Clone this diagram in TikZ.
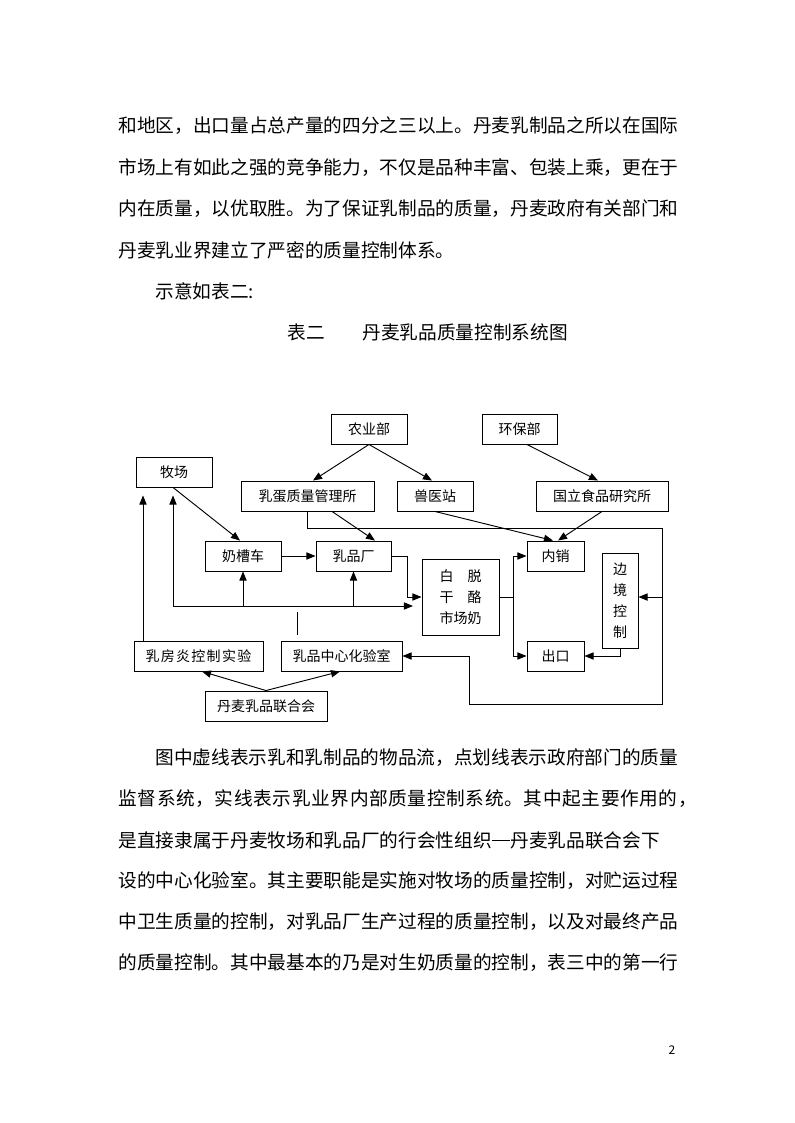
\documentclass[tikz,border=0pt]{standalone}
\usepackage{fontspec}
\newfontfamily\cjk{Noto Sans CJK SC}
\usetikzlibrary{arrows.meta,calc}
\begin{document}
\begin{tikzpicture}[x=0.75pt,y=-0.75pt,line width=0.7pt,
  box/.style={draw,inner sep=0pt,minimum height=22.5pt,font=\cjk\fontsize{10.5pt}{13pt}\selectfont},
  arr/.style={-{Triangle[length=6.8pt,width=5.4pt]}},
  body/.style={anchor=west,inner sep=0pt,font=\cjk\fontsize{14pt}{14pt}\selectfont}]
\fill[white] (0,0) rectangle (794,1123);
\useasboundingbox (0,0) rectangle (794,1123);

% ---- text above ----
\node[body] (t1) at (118,126) {和地区，出口量占总产量的四分之三以上。丹麦乳制品之所以在国际};
\node[body] (t2) at (118,168) {市场上有如此之强的竞争能力，不仅是品种丰富、包装上乘，更在于};
\node[body] (t3) at (118,209) {内在质量，以优取胜。为了保证乳制品的质量，丹麦政府有关部门和};
\node[body] (t4) at (118,250) {丹麦乳业界建立了严密的质量控制体系。};
\node[body] (t5) at (155,291) {示意如表二:};
\node[body] (t6a) at (287,332) {表二};
\node[body] (t6b) at (362,332) {丹麦乳品质量控制系统图};

% ---- boxes ----
\node[box,minimum width=57pt] (nong) at (369,429) {农业部};
\node[box,minimum width=56.25pt] (huanbao) at (519.5,429) {环保部};
\node[box,minimum width=57pt] (muchang) at (174,472) {牧场};
\node[box,minimum width=99.75pt] (rudan) at (307.5,496) {乳蛋质量管理所};
\node[box,minimum width=57pt] (shouyi) at (435,496) {兽医站};
\node[box,minimum width=99pt] (guoli) at (602,496) {国立食品研究所};
\node[box,minimum width=57pt] (naicao) at (243,556) {奶槽车};
\node[box,minimum width=56.25pt] (rupin) at (353.5,556) {乳品厂};
\node[box,minimum width=57.75pt,minimum height=57pt,align=center,
  font=\cjk\fontsize{10.5pt}{15.75pt}\selectfont] (baituo) at (460.5,597)
  {白\hspace{1em}脱\\干\hspace{1em}酪\\市场奶};
\node[box,minimum width=42.75pt] (neixiao) at (555.5,556) {内销};
\node[box,minimum width=27pt,minimum height=71.25pt,align=center,
  font=\cjk\fontsize{10.5pt}{15.75pt}\selectfont] (bianjing) at (620,600.5)
  {边\\境\\控\\制};
\node[box,minimum width=42.75pt] (chukou) at (555.5,656) {出口};
\node[box,minimum width=96.75pt] (rufang) at (198.5,656) {\addfontfeature{LetterSpace=9}乳房炎控制实验};
\node[box,minimum width=90.75pt] (zhongxin) at (341.5,656) {乳品中心化验室};
\node[box,minimum width=91.5pt] (lianhe) at (266,706) {丹麦乳品联合会};

% ---- helper coordinates ----
\coordinate (c1) at (662,528);
\coordinate (c2) at (662,704);
\coordinate (c3) at (469,704);
\coordinate (c4) at (173,606);
\coordinate (c5) at (413,606);
\coordinate (c6) at (297,606);
\coordinate (c7) at ($(rufang.north)+(-55.5,0)$);

% ---- connectors ----
\draw[arr] (nong.south) -- ([xshift=4.1pt]rudan.north);
\draw[arr] (nong.south) -- ([xshift=-2.25pt]shouyi.north);
\draw[arr] ([xshift=5.6pt]huanbao.south) -- ([xshift=-3pt]guoli.north);
\draw[arr] ([xshift=-0.75pt]muchang.south) -- ([xshift=-2.25pt]naicao.north);
\draw[arr] ([xshift=18.4pt]rudan.south) -- ([xshift=16.1pt]rupin.north);
\draw[arr] (shouyi.south) -- ([xshift=-1.9pt]neixiao.north);
\draw[arr] (guoli.south) -- ([xshift=1.9pt]neixiao.north);

\draw[arr] (rudan.south) |- (c1) |- ([yshift=2.6pt]bianjing.east);
\draw[arr] (c1) -- (c2) -- (c3) |- (zhongxin.east);

\draw[arr] (naicao.east) -- (rupin.west);
\draw[arr] (rupin.east) -- ++(16,0) |- (baituo.west);

\draw[arr] (c4) -- (c5);
\draw[arr,shorten >=6pt] (c4) -- (c4 |- muchang.south);
\draw[arr] (naicao.south |- c4) -- (naicao.south);
\draw[arr] (rupin.south |- c4) -- (rupin.south);
\draw[shorten <=4.5pt,shorten >=4.5pt] (zhongxin.north -| c6) -- (c6);
\draw[arr,shorten >=6pt] (c7) -- (c7 |- muchang.south);

\draw[arr] (baituo.east) -- ++(14,0) |- (neixiao.west);
\draw[arr] (baituo.east) -- ++(14,0) |- (chukou.west);
\draw[arr] (bianjing.south) |- (chukou.east);

\draw[arr] (lianhe.north) -- ([xshift=2.6pt]rufang.south);
\draw[arr] (lianhe.north) -- ([xshift=-1.1pt]zhongxin.south);

% ---- text below ----
\node[body] (b1) at (155,758) {图中虚线表示乳和乳制品的物品流，点划线表示政府部门的质量};
\node[body] (b2) at (118,799) {\addfontfeature{LetterSpace=3.4}监督系统，实线表示乳业界内部质量控制系统。其中起主要作用的，};
\node[body] (b3) at (118,840) {是直接隶属于丹麦牧场和乳品厂的行会性组织\rule[0.33em]{1em}{0.05em}丹麦乳品联合会下};
\node[body] (b4) at (118,881) {设的中心化验室。其主要职能是实施对牧场的质量控制，对贮运过程};
\node[body] (b5) at (118,922) {中卫生质量的控制，对乳品厂生产过程的质量控制，以及对最终产品};
\node[body] (b6) at (118,963) {的质量控制。其中最基本的乃是对生奶质量的控制，表三中的第一行};

\node[font=\cjk\fontsize{9pt}{9pt}\selectfont,inner sep=0pt] (pg) at (672,1050) {2};
\end{tikzpicture}
\end{document}
